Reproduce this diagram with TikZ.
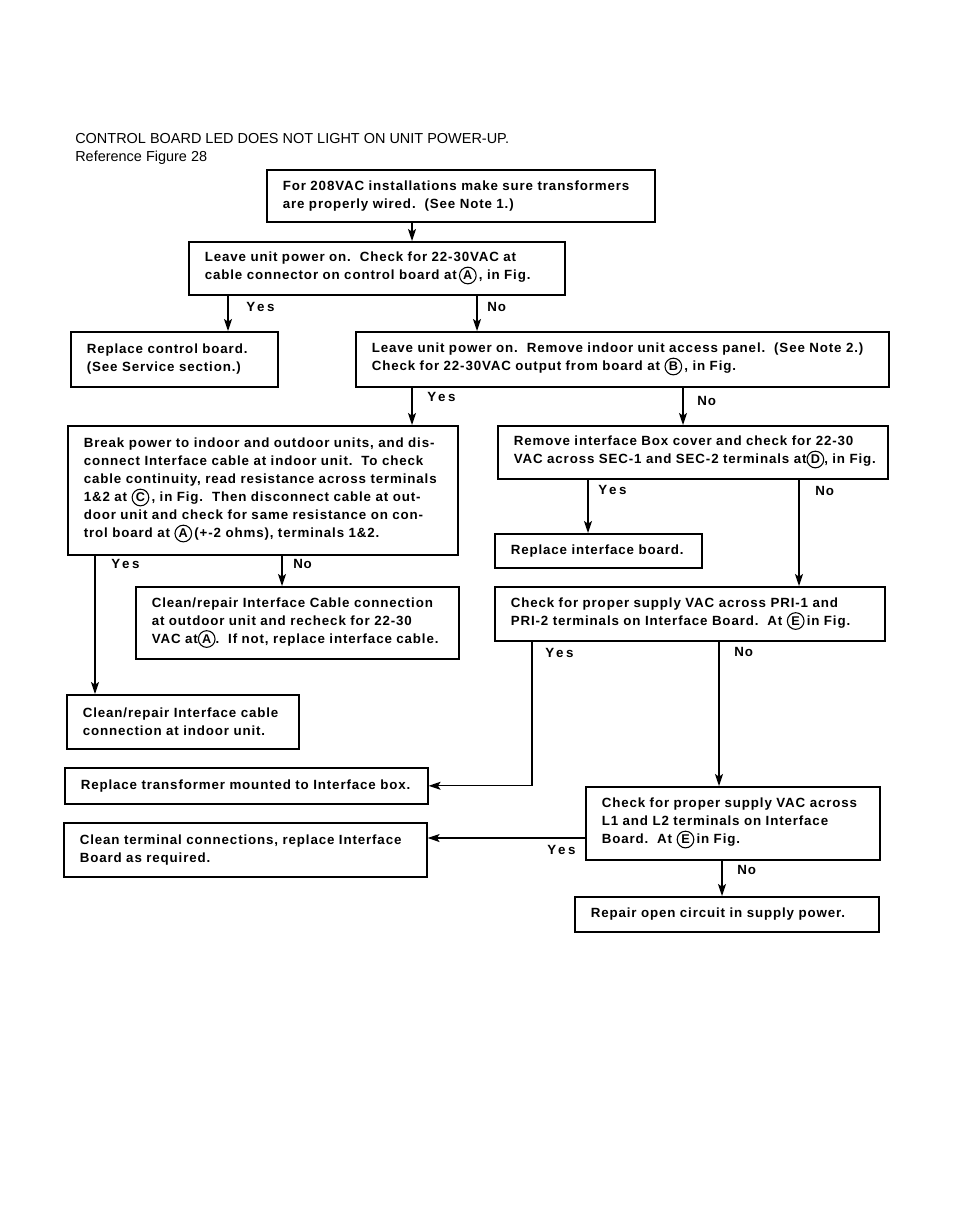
\documentclass[tikz,border=0pt]{standalone}
\usepackage{fontspec}
\setmainfont{Liberation Sans}
\newfontfamily\boxfont[LetterSpace=6.5]{Liberation Sans}
\newfontfamily\yesfont[LetterSpace=20]{Liberation Sans}
\usetikzlibrary{arrows.meta}
\newcommand{\cl}[1]{\tikz[baseline=(cc.base)]\node[draw,circle,line width=0.8pt,inner sep=0pt,minimum size=12.5pt,font=\fontsize{9.5}{9.5}\selectfont\bfseries](cc){#1};}
\tikzset{
  box/.style={draw,line width=1.2pt,anchor=north west,align=left,inner xsep=12pt,inner ysep=2pt,
    font=\boxfont\fontsize{10}{13.5}\selectfont\bfseries},
  lbl/.style={anchor=west,inner sep=0pt,font=\yesfont\fontsize{10}{12}\selectfont\bfseries},
  nolbl/.style={anchor=west,inner sep=0pt,font=\boxfont\fontsize{10}{12}\selectfont\bfseries},
  arr/.style={line width=1pt,-{Stealth[length=9pt,width=6pt,inset=2pt]}},
  ttl/.style={anchor=west,inner sep=0pt,font=\fontsize{10.85}{12}\selectfont}
}
\begin{document}
\begin{tikzpicture}[x=0.75pt,y=-0.75pt]
\useasboundingbox (0,0) rectangle (954,1225);
\node[ttl] (t1) at (75,139) {CONTROL BOARD LED DOES NOT LIGHT ON UNIT POWER-UP.};
\node[ttl] (t2) at (75,158) {Reference Figure 28};

\node[box,text width=267pt,minimum height=39pt] (b1) at (266,169)
 {For 208VAC installations make sure transformers\\are properly wired.\ \ (See Note 1.)};
\node[box,text width=258pt,minimum height=39.75pt] (b2) at (188,241)
 {Leave unit power on.\ \ Check for 22-30VAC at\\cable connector on control board at\,\cl{A}\,, in Fig.};
\node[box,text width=131.25pt,minimum height=41.25pt] (b3) at (70,331)
 {Replace control board.\\(See Service section.)};
\node[box,text width=375.75pt,minimum height=41.25pt] (b4) at (355,331)
 {Leave unit power on.\ \ Remove indoor unit access panel.\ \ (See Note 2.)\\Check for 22-30VAC output from board at \cl{B}\,, in Fig.};
\node[box,text width=268.5pt,minimum height=96.75pt] (b5) at (67,425)
 {Break power to indoor and outdoor units, and dis-\\connect Interface cable at indoor unit.\ \ To check\\cable continuity, read resistance across terminals\\1\&2 at \cl{C}\,, in Fig.\ \ Then disconnect cable at out-\\door unit and check for same resistance on con-\\trol board at \cl{A}\,(+-2 ohms), terminals 1\&2.};
\node[box,text width=268.5pt,minimum height=39.75pt] (b6) at (497,425)
 {Remove interface Box cover and check for 22-30\\VAC across SEC-1 and SEC-2 terminals at\cl{D}, in Fig.};
\node[box,text width=131.25pt,minimum height=25.5pt] (b7) at (494,533)
 {Replace interface board.};
\node[box,text width=268.5pt,minimum height=40.5pt] (b8) at (494,586)
 {Check for proper supply VAC across PRI-1 and\\PRI-2 terminals on Interface Board.\ \ At \cl{E}\,in Fig.};
\node[box,text width=218.25pt,minimum height=54pt] (b9) at (135,586)
 {Clean/repair Interface Cable connection\\at outdoor unit and recheck for 22-30\\VAC at\cl{A}.\ \ If not, replace interface cable.};
\node[box,text width=150pt,minimum height=40.5pt] (b10) at (66,694)
 {Clean/repair Interface cable\\connection at indoor unit.};
\node[box,text width=248.25pt,minimum height=27pt] (b11) at (64,767)
 {Replace transformer mounted to Interface box.};
\node[box,text width=248.25pt,minimum height=40.5pt] (b12) at (63,822)
 {Clean terminal connections, replace Interface\\Board as required.};
\node[box,text width=196.5pt,minimum height=54.75pt] (b13) at (585,786)
 {Check for proper supply VAC across\\L1 and L2 terminals on Interface\\Board.\ \ At \cl{E}\,in Fig.};
\node[box,text width=204pt,minimum height=26.25pt] (b14) at (574,896)
 {Repair open circuit in supply power.};

% x positions of connectors
\coordinate (xa) at (412,0);
\coordinate (xb) at (228,0);
\coordinate (xc) at (477,0);
\coordinate (xd) at (683,0);
\coordinate (xe) at (588,0);
\coordinate (xf) at (799,0);
\coordinate (xg) at (95,0);
\coordinate (xh) at (282,0);
\coordinate (xi) at (532,0);
\coordinate (xj) at (719,0);
\coordinate (xk) at (722,0);
\coordinate (yl) at (0,838);

\draw[arr] (b1.south -| xa) -- (b2.north -| xa);
\draw[arr] (b2.south -| xb) -- (b3.north -| xb);
\draw[arr] (b2.south -| xc) -- (b4.north -| xc);
\draw[arr] (b4.south -| xa) -- (b5.north -| xa);
\draw[arr] (b4.south -| xd) -- (b6.north -| xd);
\draw[arr] (b6.south -| xe) -- (b7.north -| xe);
\draw[arr] (b6.south -| xf) -- (b8.north -| xf);
\draw[arr] (b5.south -| xg) -- (b10.north -| xg);
\draw[arr] (b5.south -| xh) -- (b9.north -| xh);
\draw[arr] (b8.south -| xi) -- (b11.east -| xi) -- (b11.east);
\draw[arr] (b8.south -| xj) -- (b13.north -| xj);
\draw[arr] (b13.west |- yl) -- (b12.east |- yl);
\draw[arr] (b13.south -| xk) -- (b14.north -| xk);

\node[lbl] (y1) at (246,307) {Yes};
\node[nolbl] (n1) at (487,307) {No};
\node[lbl] (y2) at (427,397) {Yes};
\node[nolbl] (n2) at (697,401) {No};
\node[lbl] (y3) at (598,490) {Yes};
\node[nolbl] (n3) at (815,491) {No};
\node[lbl] (y4) at (111,564) {Yes};
\node[nolbl] (n4) at (293,564) {No};
\node[lbl] (y5) at (545,653) {Yes};
\node[nolbl] (n5) at (734,652) {No};
\node[lbl] (y6) at (547,850) {Yes};
\node[nolbl] (n6) at (737,870) {No};
\end{tikzpicture}
\end{document}
